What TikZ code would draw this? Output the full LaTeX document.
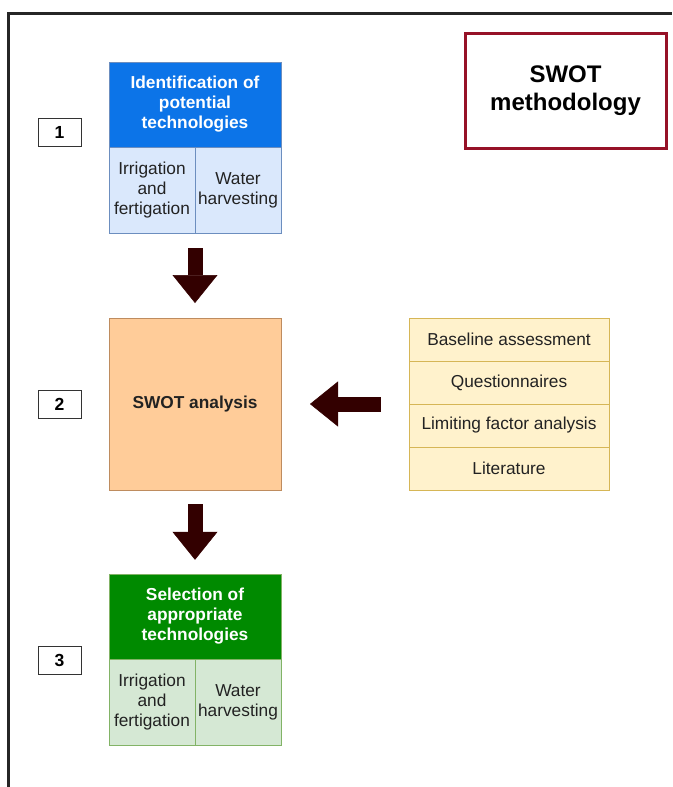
\documentclass[tikz,border=0pt]{standalone}
\usepackage{fontspec}
\setmainfont{Liberation Sans}
\usepackage{tikz}
\usetikzlibrary{arrows.meta}
\usetikzlibrary{fit}
\usetikzlibrary{positioning}
\definecolor{headblue}{RGB}{12,116,232}
\definecolor{lightblue}{HTML}{DAE8FC}
\definecolor{lineblue}{HTML}{6C8EBF}
\definecolor{headgreen}{HTML}{008A00}
\definecolor{lightgreen}{HTML}{D5E8D4}
\definecolor{linegreen}{HTML}{82B366}
\definecolor{swotfill}{HTML}{FFCC99}
\definecolor{swotline}{RGB}{190,140,95}
\definecolor{srcfill}{HTML}{FFF2CC}
\definecolor{srcline}{HTML}{D6B656}
\definecolor{methred}{RGB}{150,18,40}
\definecolor{arrowbrown}{HTML}{330000}
\definecolor{textgrey}{HTML}{222222}
\tikzset{
	align=center,
	cell/.style={
		draw,
		rectangle,
		outer sep=0pt,
		inner sep=2pt,
		text=textgrey,
		font=\fontsize{17.3}{20}\selectfont,
	},
	head/.style={
		cell,
		text=white,
		font=\fontsize{17.3}{20}\selectfont\bfseries,
		minimum width=172pt,
		minimum height=85pt,
	},
	half/.style={
		cell,
		minimum width=86pt,
		minimum height=86pt,
	},
	numbox/.style={
		draw=black!80,
		rectangle,
		line width=1pt,
		minimum width=43pt,
		minimum height=28pt,
		font=\fontsize{17.5}{20}\selectfont\bfseries,
	},
	srcrow/.style={
		cell,
		fill=srcfill,
		draw=srcline,
		minimum width=200pt,
		minimum height=43pt,
	},
	blockarrow/.style={
		draw=arrowbrown,
		line width=15pt,
		-{Triangle[width=45pt 0, length=28pt 0, line width=0.5pt 0]},
	},
}

\begin{document}
\begin{tikzpicture}[
		x=1pt, y=-1pt,
		blue/.style={draw=lineblue, fill=lightblue},
		green/.style={draw=linegreen, fill=lightgreen},
	]
		\useasboundingbox (0,0) rectangle (672,787);

		% frame
		\draw[line width=3pt, black!85] (8,787) -- (8,13) -- (672,13);

		\node[cell, draw=methred, line width=3pt, minimum width=201pt, minimum height=115pt,
			text=black, font=\fontsize{24}{28}\selectfont\bfseries] (method) at (565.5,90.5) {SWOT\\methodology};

		\node[numbox] (step1) at (59.5,132) {1};
		\node[numbox] (step2) at (59.5,404) {2};
		\node[numbox] (step3) at (59.5,660.5) {3};

		\node[head, blue, fill=headblue] (ident) at (195,104.5) {Identification of\\potential\\technologies};
		\node[half, blue] (irrig1) at (152,190) {Irrigation\\and\\fertigation};
		\node[half, blue] (water1) at (238,190) {Water\\harvesting};
		\node[fit=(ident)(irrig1)(water1), inner sep=0pt] (tech1) {};

		\node[cell, draw=swotline, fill=swotfill, minimum width=172pt, minimum height=172pt,
			font=\fontsize{17.3}{20}\selectfont\bfseries] (swot) at (195,404) {SWOT analysis};

		\node[srcrow] (base) at (509,339.5) {Baseline assessment};
		\node[srcrow] (quest) at (509,382.5) {Questionnaires};
		\node[srcrow] (limit) at (509,425.5) {Limiting factor analysis};
		\node[srcrow] (lit) at (509,468.5) {Literature};
		\node[fit=(base)(lit), inner sep=0pt] (sources) {};

		\node[head, green, fill=headgreen] (select) at (195,616.5) {Selection of\\appropriate\\technologies};
		\node[half, green] (irrig3) at (152,702) {Irrigation\\and\\fertigation};
		\node[half, green] (water3) at (238,702) {Water\\harvesting};
		\node[fit=(select)(irrig3)(water3), inner sep=0pt] (tech3) {};

		\draw[blockarrow, shorten <=15pt, shorten >=15pt] (tech1.south) -- (swot.north);
		\draw[blockarrow, shorten <=28pt, shorten >=29pt] (sources.west) -- (swot.east);
		\draw[blockarrow, shorten <=14pt, shorten >=14pt] (swot.south) -- (tech3.north);

	\end{tikzpicture}
\end{document}
